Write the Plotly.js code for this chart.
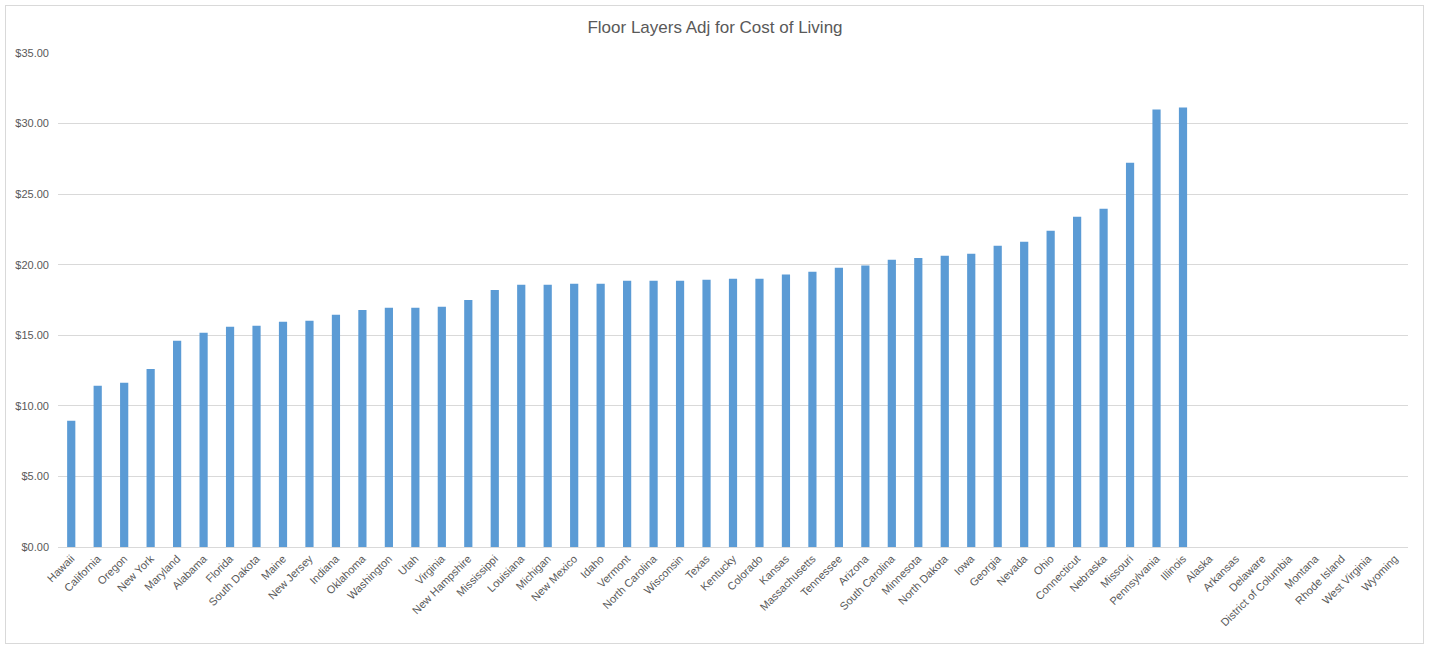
<!DOCTYPE html>
<html>
<head>
<meta charset="utf-8">
<script src="https://cdn.plot.ly/plotly-3.0.1.min.js"></script>
<style>
  html, body { margin: 0; padding: 0; background: #fff; }
  #wrap { position: relative; width: 1430px; height: 651px; }
  #chart { position: absolute; left: 0; top: 0; width: 1430px; height: 651px; }
  #frame { position: absolute; left: 5px; top: 5px; width: 1417px; height: 637px; border: 1px solid #d9d9d9; pointer-events: none; }
</style>
</head>
<body>
<div id="wrap">
  <div id="chart"></div>
  <div id="frame"></div>
</div>
<script>
const states = ["Hawaii","California","Oregon","New York","Maryland","Alabama","Florida","South Dakota","Maine","New Jersey","Indiana","Oklahoma","Washington","Utah","Virginia","New Hampshire","Mississippi","Louisiana","Michigan","New Mexico","Idaho","Vermont","North Carolina","Wisconsin","Texas","Kentucky","Colorado","Kansas","Massachusetts","Tennessee","Arizona","South Carolina","Minnesota","North Dakota","Iowa","Georgia","Nevada","Ohio","Connecticut","Nebraska","Missouri","Pennsylvania","Illinois","Alaska","Arkansas","Delaware","District of Columbia","Montana","Rhode Island","West Virginia","Wyoming"];
const adjWage = [8.94,11.42,11.63,12.62,14.61,15.18,15.60,15.67,15.96,16.03,16.45,16.80,16.95,16.95,17.02,17.50,18.20,18.58,18.58,18.65,18.65,18.87,18.87,18.87,18.94,19.00,19.00,19.30,19.50,19.79,19.95,20.35,20.48,20.64,20.78,21.35,21.63,22.41,23.40,23.97,27.23,31.00,31.13,null,null,null,null,null,null,null,null];
const chartTitle = "Floor Layers Adj for Cost of Living";

const font = "Liberation Sans, Arial, sans-serif";
Plotly.newPlot("chart", [{
  type: "bar",
  x: states,
  y: adjWage,
  marker: { color: "#5b9bd5" },
  hoverinfo: "x+y"
}], {
  width: 1430, height: 651,
  margin: { l: 58, r: 22, t: 53, b: 104, pad: 0 },
  paper_bgcolor: "rgba(0,0,0,0)",
  plot_bgcolor: "#fff",
  title: { text: chartTitle, x: 0.5, xanchor: "center", y: 0.958, yanchor: "middle",
           font: { family: font, size: 17, color: "#595959" } },
  bargap: 0.69,
  showlegend: false,
  xaxis: {
    type: "category",
    tickangle: -45,
    tickfont: { family: font, size: 11, color: "#595959" },
    showline: true, linecolor: "#d9d9d9", linewidth: 1,
    ticks: "", showgrid: false, automargin: false
  },
  yaxis: {
    range: [0, 35], dtick: 5, tick0: 0,
    tickformat: "$.2f",
    tickfont: { family: font, size: 11, color: "#595959" },
    gridcolor: "#d9d9d9", gridwidth: 1,
    zeroline: false, showline: false, ticks: "",
    ticklabelstandoff: 8, automargin: false
  }
}, { displayModeBar: false, staticPlot: true });
</script>
</body>
</html>
